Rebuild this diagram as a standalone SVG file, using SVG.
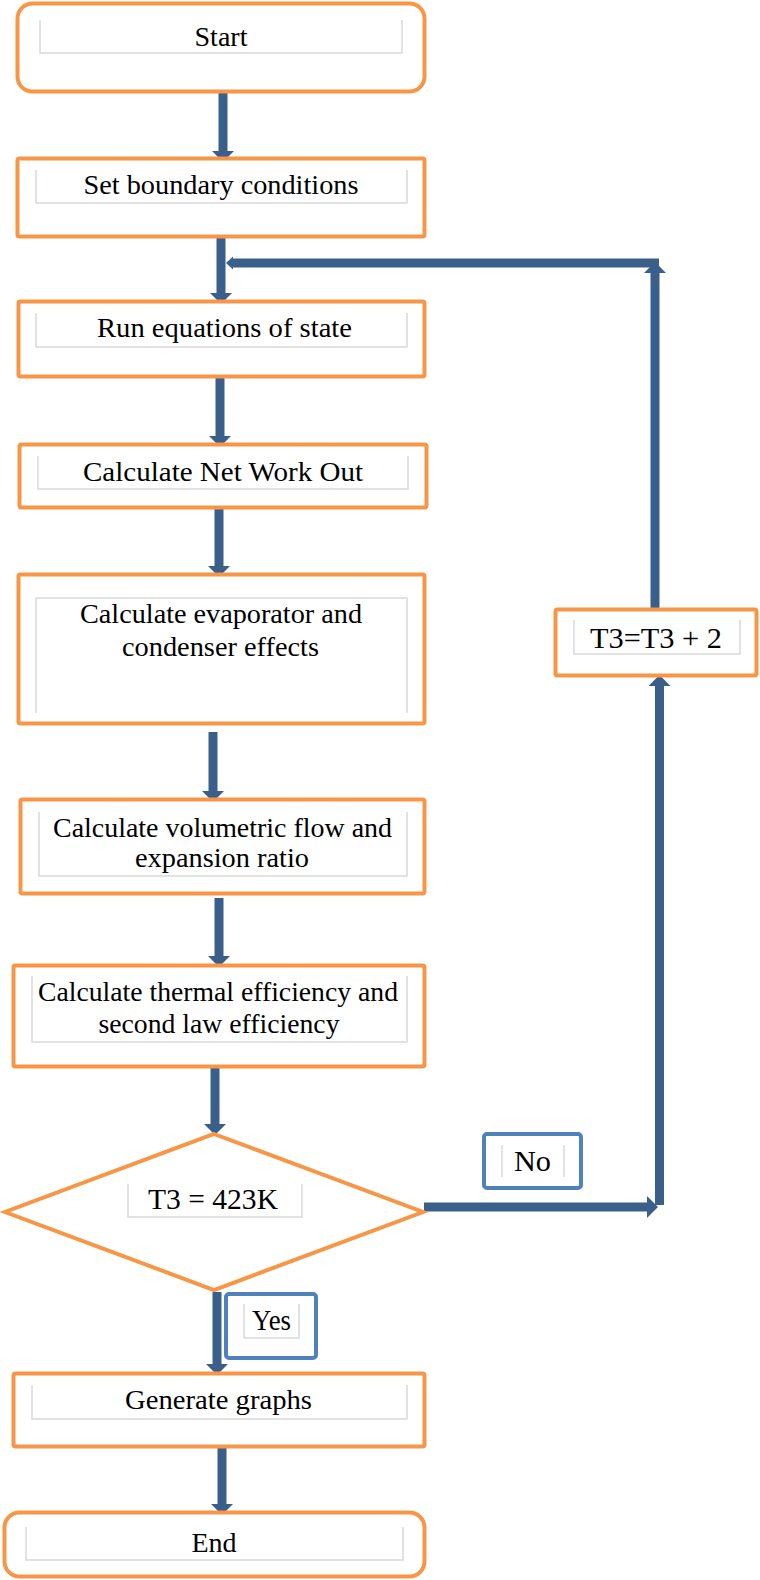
<svg xmlns="http://www.w3.org/2000/svg" width="760" height="1580" viewBox="0 0 760 1580" font-family="'Liberation Serif', 'Times New Roman', serif">
<style>
.box{fill:#fff;stroke:#F79646;stroke-width:4}
.lbl{fill:#fff;stroke:#4F81BD;stroke-width:4}
.inner{fill:none;stroke:#D9D9D9;stroke-width:1.5}
text{font-family:'Liberation Serif','Times New Roman',serif;fill:#000;text-anchor:middle}
.t{font-size:28px}
.tl{font-size:29px}
.c{stroke:#3A5F8B;stroke-width:9;fill:none}
.h{fill:#3A5F8B}
</style>
<defs>
<marker id="ah" viewBox="0 0 11 22" refX="0" refY="11" markerWidth="11" markerHeight="22" markerUnits="userSpaceOnUse" orient="auto">
<path d="M0,0 L11,11 L0,22 Z" fill="#3A5F8B"/>
</marker>
</defs>
<g id="connectors">
<line class="c" x1="223" y1="93" x2="223" y2="151" marker-end="url(#ah)"/>
<line class="c" x1="221" y1="238" x2="221" y2="293" marker-end="url(#ah)"/>
<line class="c" x1="220" y1="378" x2="220" y2="436" marker-end="url(#ah)"/>
<line class="c" x1="219" y1="509" x2="219" y2="566" marker-end="url(#ah)"/>
<line class="c" x1="213" y1="732" x2="213" y2="791" marker-end="url(#ah)"/>
<line class="c" x1="219" y1="898" x2="219" y2="956" marker-end="url(#ah)"/>
<line class="c" x1="215" y1="1068" x2="215" y2="1124" marker-end="url(#ah)"/>
<line class="c" x1="217" y1="1292" x2="217" y2="1364" marker-end="url(#ah)"/>
<line class="c" x1="222" y1="1448" x2="222" y2="1504" marker-end="url(#ah)"/>
<line class="c" x1="424" y1="1207" x2="647" y2="1207" marker-end="url(#ah)"/>
<line class="c" x1="659.5" y1="1205" x2="659.5" y2="686" marker-end="url(#ah)"/>
<line class="c" x1="655" y1="608" x2="655" y2="273" marker-end="url(#ah)"/>
<line class="c" x1="659" y1="263" x2="233" y2="263"/>
<polygon class="h" points="226,263 233,256.5 233,269.5"/>
</g>
<g id="start">
<rect class="box" x="17.5" y="3.5" width="407" height="88" rx="15"/>
<path class="inner" d="M40,20 V53 H402 V20"/>
<text class="t" x="221" y="46">Start</text>
</g>
<g id="set-boundary">
<rect class="box" x="17.5" y="158.5" width="407" height="78" rx="2"/>
<path class="inner" d="M36,170 V203 H407 V170"/>
<text class="t" x="221" y="194" textLength="275" lengthAdjust="spacingAndGlyphs">Set boundary conditions</text>
</g>
<g id="run-eos">
<rect class="box" x="18.5" y="301.5" width="406" height="75" rx="2"/>
<path class="inner" d="M36,313 V347 H407 V313"/>
<text class="t" x="224.5" y="337" textLength="255" lengthAdjust="spacingAndGlyphs">Run equations of state</text>
</g>
<g id="net-work">
<rect class="box" x="19.5" y="444.5" width="407" height="63" rx="2"/>
<path class="inner" d="M38,456 V489 H408 V456"/>
<text class="t" x="223" y="481" textLength="280" lengthAdjust="spacingAndGlyphs">Calculate Net Work Out</text>
</g>
<g id="evaporator">
<rect class="box" x="18.5" y="574.5" width="406" height="149" rx="2"/>
<path class="inner" d="M36,713 V598 H407 V713"/>
<text class="t" x="221" y="623" textLength="282" lengthAdjust="spacingAndGlyphs">Calculate evaporator and</text>
<text class="t" x="220.5" y="656" textLength="197" lengthAdjust="spacingAndGlyphs">condenser effects</text>
</g>
<g id="volumetric">
<rect class="box" x="20.5" y="799.5" width="404" height="94" rx="2"/>
<path class="inner" d="M39,812 V876 H407 V812"/>
<text class="t" x="222.5" y="837" textLength="339" lengthAdjust="spacingAndGlyphs">Calculate volumetric flow and</text>
<text class="t" x="222" y="867" textLength="174" lengthAdjust="spacingAndGlyphs">expansion ratio</text>
</g>
<g id="thermal">
<rect class="box" x="13.5" y="965.5" width="411" height="101" rx="2"/>
<path class="inner" d="M32,976 V1042 H407 V976"/>
<text class="t" x="218" y="1001" textLength="360" lengthAdjust="spacingAndGlyphs">Calculate thermal efficiency and</text>
<text class="t" x="219" y="1033" textLength="241" lengthAdjust="spacingAndGlyphs">second law efficiency</text>
</g>
<g id="decision">
<polygon class="box" points="214,1134 423,1212 214,1290 5,1212"/>
<path class="inner" d="M128,1184 V1217 H302 V1184"/>
<text class="tl" x="213" y="1209" textLength="130" lengthAdjust="spacingAndGlyphs">T3 = 423K</text>
</g>
<g id="label-no">
<rect class="lbl" x="484" y="1134" width="97" height="54" rx="3"/>
<path class="inner" d="M502,1145 V1177 M564,1145 V1177"/>
<text class="tl" x="532.5" y="1171" textLength="37" lengthAdjust="spacingAndGlyphs">No</text>
</g>
<g id="increment">
<rect class="box" x="555.5" y="609.5" width="201" height="66" rx="2"/>
<path class="inner" d="M574,620 V654 H740 V620"/>
<text class="tl" x="656" y="648" textLength="132" lengthAdjust="spacingAndGlyphs">T3=T3 + 2</text>
</g>
<g id="label-yes">
<rect class="lbl" x="226" y="1294" width="90" height="64" rx="3"/>
<path class="inner" d="M244,1304 V1338 H299 V1304"/>
<text class="tl" x="271.5" y="1330" textLength="39" lengthAdjust="spacingAndGlyphs">Yes</text>
</g>
<g id="graphs">
<rect class="box" x="13.5" y="1373.5" width="411" height="73" rx="2"/>
<path class="inner" d="M32,1385 V1419 H407 V1385"/>
<text class="t" x="218.5" y="1409" textLength="187" lengthAdjust="spacingAndGlyphs">Generate graphs</text>
</g>
<g id="end">
<rect class="box" x="4.5" y="1512.5" width="420" height="64" rx="15"/>
<path class="inner" d="M26,1527 V1560 H403 V1527"/>
<text class="t" x="214" y="1552">End</text>
</g>
</svg>
